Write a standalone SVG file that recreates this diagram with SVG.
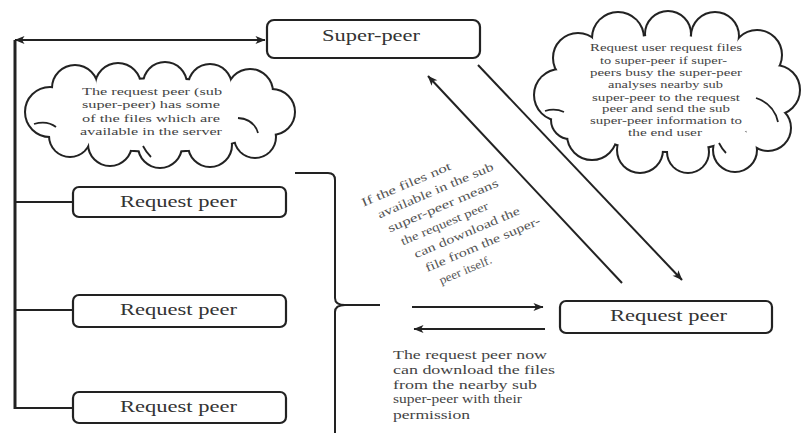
<svg xmlns="http://www.w3.org/2000/svg" xmlns:xlink="http://www.w3.org/1999/xlink" width="801" height="433" viewBox="0 0 801 433">
<style>
text{font-family:"Liberation Serif","DejaVu Serif","Times New Roman",serif}
.box{fill:#fff;stroke:#222;stroke-width:2.2}
.bt{font-size:16px;fill:#333}
.ct{font-size:11px;fill:#444}
.nt{font-size:12px;fill:#444}
.rt{font-size:12px;fill:#555}
.ln{fill:none;stroke:#222;stroke-width:2}
.cs{fill:#fff;stroke:#222;stroke-width:4}
.cf{fill:#fff;stroke:none}
.ci{fill:none;stroke:#222;stroke-width:1.8}
</style>
<defs>
<marker id="ah" viewBox="0 0 10 8" refX="9.5" refY="4" markerWidth="11" markerHeight="8" orient="auto-start-reverse" markerUnits="userSpaceOnUse">
<path d="M0,0 L10,4 L0,8 L2.5,4 z" fill="#222"/>
</marker>
<g id="c1shape">
<ellipse cx="160" cy="115" rx="112" ry="36"/>
<circle cx="50" cy="112" r="24"/>
<circle cx="75" cy="88" r="22"/>
<circle cx="118" cy="86" r="22"/>
<circle cx="165" cy="84" r="21"/>
<circle cx="210" cy="86" r="21"/>
<circle cx="250" cy="92" r="22"/>
<circle cx="272" cy="112" r="22"/>
<circle cx="255" cy="137" r="20"/>
<circle cx="210" cy="145" r="21"/>
<circle cx="160" cy="146" r="21"/>
<circle cx="110" cy="144" r="21"/>
<circle cx="70" cy="136" r="20"/>
</g>
<g id="c2shape">
<ellipse cx="667" cy="93" rx="105" ry="58"/>
<circle cx="560" cy="95" r="25"/>
<circle cx="578" cy="58" r="24"/>
<circle cx="618" cy="38" r="25"/>
<circle cx="668" cy="34" r="22"/>
<circle cx="715" cy="36" r="23"/>
<circle cx="757" cy="55" r="24"/>
<circle cx="775" cy="90" r="24"/>
<circle cx="768" cy="128" r="22"/>
<circle cx="735" cy="150" r="21"/>
<circle cx="688" cy="152" r="20"/>
<circle cx="640" cy="150" r="22"/>
<circle cx="592" cy="135" r="24"/>
<circle cx="570" cy="120" r="18"/>
</g>
</defs>
<rect width="801" height="433" fill="#fff"/>

<g id="cloud1">
<use xlink:href="#c1shape" class="cs"/>
<use xlink:href="#c1shape" class="cf"/>
<path class="ci" d="M238,118 Q254,119 258,133"/>
<path class="ci" d="M34,124 Q47,120 56,127"/>
<path class="ci" d="M143,146 Q146,152 151,157"/>
<text class="ct" x="82" y="95" textLength="140" lengthAdjust="spacingAndGlyphs">The request peer (sub</text>
<text class="ct" x="82" y="108" textLength="138" lengthAdjust="spacingAndGlyphs">super-peer) has some</text>
<text class="ct" x="82" y="122" textLength="138" lengthAdjust="spacingAndGlyphs">of the files which are</text>
<text class="ct" x="80" y="135" textLength="142" lengthAdjust="spacingAndGlyphs">available in the server</text>
</g>

<g id="cloud2">
<use xlink:href="#c2shape" class="cs"/>
<use xlink:href="#c2shape" class="cf"/>
<path class="ci" d="M756,98 Q774,104 778,122"/>
<path class="ci" d="M545,111 Q555,108 564,112"/>
<path class="ci" d="M719,143 Q722,149 726,153"/>
<text class="ct" x="590" y="51" textLength="152" lengthAdjust="spacingAndGlyphs">Request user request files</text>
<text class="ct" x="600" y="64" textLength="127" lengthAdjust="spacingAndGlyphs">to super-peer if super-</text>
<text class="ct" x="590" y="76" textLength="152" lengthAdjust="spacingAndGlyphs">peers busy the super-peer</text>
<text class="ct" x="608" y="88" textLength="115" lengthAdjust="spacingAndGlyphs">analyses nearby sub</text>
<text class="ct" x="592" y="101" textLength="148" lengthAdjust="spacingAndGlyphs">super-peer to the request</text>
<text class="ct" x="602" y="112" textLength="128" lengthAdjust="spacingAndGlyphs">peer and send the sub</text>
<text class="ct" x="590" y="124" textLength="152" lengthAdjust="spacingAndGlyphs">super-peer information to</text>
<text class="ct" x="628" y="136" textLength="74" lengthAdjust="spacingAndGlyphs">the end user</text>
</g>

<g id="super-peer">
<rect class="box" x="267" y="20" width="213" height="38" rx="7"/>
<text class="bt" x="322" y="41" textLength="98" lengthAdjust="spacingAndGlyphs">Super-peer</text>
</g>

<g id="request-peer-1">
<rect class="box" x="73" y="187" width="213" height="30" rx="6"/>
<text class="bt" x="120" y="207" textLength="117" lengthAdjust="spacingAndGlyphs">Request peer</text>
</g>
<g id="request-peer-2">
<rect class="box" x="73" y="295" width="213" height="32" rx="6"/>
<text class="bt" x="120" y="315" textLength="117" lengthAdjust="spacingAndGlyphs">Request peer</text>
</g>
<g id="request-peer-3">
<rect class="box" x="73" y="392" width="213" height="31" rx="6"/>
<text class="bt" x="120" y="412" textLength="117" lengthAdjust="spacingAndGlyphs">Request peer</text>
</g>
<g id="request-peer-right">
<rect class="box" x="560" y="301" width="212" height="32" rx="6"/>
<text class="bt" x="610" y="321" textLength="117" lengthAdjust="spacingAndGlyphs">Request peer</text>
</g>

<g id="note-rotated" transform="translate(362,203) rotate(-23)">
<text class="rt" x="0" y="4" textLength="96" lengthAdjust="spacingAndGlyphs">If the files not</text>
<text class="rt" x="10" y="21" textLength="125" lengthAdjust="spacingAndGlyphs">available in the sub</text>
<text class="rt" x="14" y="38" textLength="119" lengthAdjust="spacingAndGlyphs">super-peer means</text>
<text class="rt" x="21" y="55" textLength="94" lengthAdjust="spacingAndGlyphs">the request peer</text>
<text class="rt" x="28" y="72" textLength="114" lengthAdjust="spacingAndGlyphs">can download the</text>
<text class="rt" x="33" y="89" textLength="124" lengthAdjust="spacingAndGlyphs">file from the super-</text>
<text class="rt" x="41" y="106" textLength="56" lengthAdjust="spacingAndGlyphs">peer itself.</text>
</g>

<g id="note-bottom">
<text class="nt" x="393" y="359" textLength="154" lengthAdjust="spacingAndGlyphs">The request peer now</text>
<text class="nt" x="393" y="374" textLength="162" lengthAdjust="spacingAndGlyphs">can download the files</text>
<text class="nt" x="393" y="389" textLength="144" lengthAdjust="spacingAndGlyphs">from the nearby sub</text>
<text class="nt" x="393" y="403" textLength="129" lengthAdjust="spacingAndGlyphs">super-peer with their</text>
<text class="nt" x="393" y="419" textLength="77" lengthAdjust="spacingAndGlyphs">permission</text>
</g>

<g id="connectors">
<line x1="15" y1="40" x2="15" y2="409" stroke="#222" stroke-width="3"/>
<line class="ln" x1="15" y1="40" x2="265" y2="40" marker-start="url(#ah)" marker-end="url(#ah)"/>
<line class="ln" x1="15" y1="202" x2="73" y2="202"/>
<line class="ln" x1="15" y1="310" x2="73" y2="310"/>
<line class="ln" x1="15" y1="408" x2="73" y2="408"/>
<path class="ln" d="M295,173 L328,173 Q335,173 335,180 L335,298 Q335,305 345,305 L380,305 M345,305 Q335,305 335,312 L335,433"/>
<line class="ln" x1="622" y1="283" x2="428" y2="76" marker-end="url(#ah)"/>
<line class="ln" x1="478" y1="65" x2="682" y2="280" marker-end="url(#ah)"/>
<line class="ln" x1="412" y1="307" x2="543" y2="307" marker-end="url(#ah)"/>
<line class="ln" x1="545" y1="329" x2="414" y2="329" marker-end="url(#ah)"/>
</g>
</svg>
